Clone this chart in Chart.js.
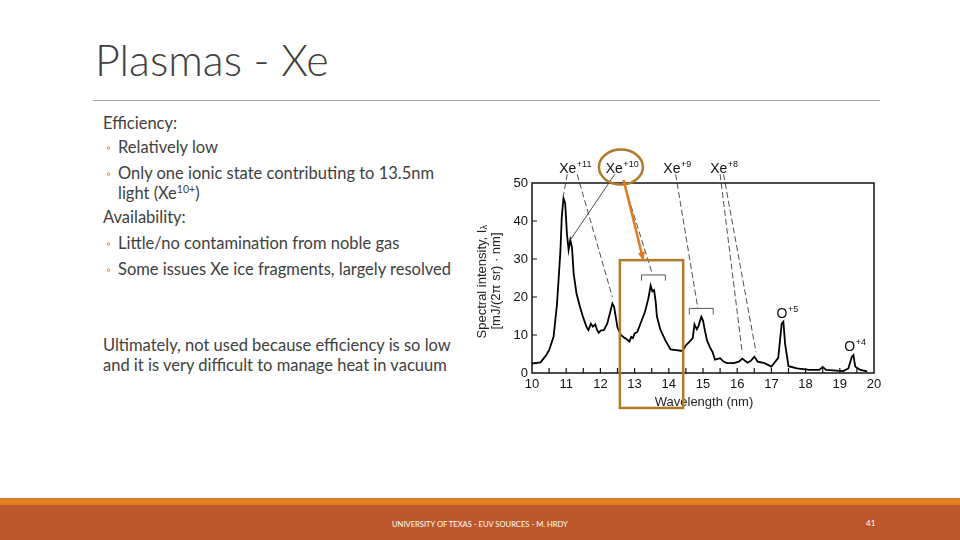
<!DOCTYPE html>
<html>
<head>
<meta charset="utf-8">
<script src="https://cdn.jsdelivr.net/npm/chart.js@4.4.1/dist/chart.umd.min.js"></script>
<style>
  html, body { margin: 0; padding: 0; background: #fff; }
  #slide { position: relative; width: 960px; height: 540px; overflow: hidden; background: #fff; font-family: Lato, "Open Sans", sans-serif; color: #404040; }
  .t { position: absolute; white-space: nowrap; }
  #title { left: 95px; top: 34px; font-size: 43px; font-weight: 300; color: #404040; }
  #rule { position: absolute; left: 93px; top: 100px; width: 787px; height: 1px; background: #a6a6a6; }
  .body { font-size: 16.5px; line-height: 19px; }
  .bul { position: absolute; color: #e07b20; font-size: 12px; }
  #chartBox { position: absolute; left: 460px; top: 140px; width: 440px; height: 280px; }
  #band1 { position: absolute; left: 0; top: 498px; width: 960px; height: 7px; background: #e08020; }
  #band2 { position: absolute; left: 0; top: 505px; width: 960px; height: 35px; background: #bc582b; }
  .foot { position: absolute; color: #fff; font-size: 7.6px; }
</style>
</head>
<body>
<div id="slide">
  <div class="t" id="title">Plasmas - Xe</div>
  <div id="rule"></div>

  <div class="t body" style="left:103px; top:114px;">Efficiency:</div>
  <div class="bul" style="left:106px; top:140px;">◦</div>
  <div class="t body" style="left:118px; top:138px;">Relatively low</div>
  <div class="bul" style="left:106px; top:166px;">◦</div>
  <div class="t body" style="left:118px; top:164px;">Only one ionic state contributing to 13.5nm</div>
  <div class="t body" style="left:118px; top:184px;">light (Xe<sup style="font-size:10.5px; line-height:0;">10+</sup>)</div>
  <div class="t body" style="left:103px; top:208px;">Availability:</div>
  <div class="bul" style="left:106px; top:236px;">◦</div>
  <div class="t body" style="left:118px; top:234px;">Little/no contamination from noble gas</div>
  <div class="bul" style="left:106px; top:262px;">◦</div>
  <div class="t body" style="left:118px; top:260px;">Some issues Xe ice fragments, largely resolved</div>

  <div class="t body" style="left:103px; top:336px;">Ultimately, not used because efficiency is so low</div>
  <div class="t body" style="left:103px; top:356px;">and it is very difficult to manage heat in vacuum</div>

  <div id="chartBox"><canvas id="spectrumChart" width="440" height="280"></canvas></div>

  <div id="band1"></div>
  <div id="band2"></div>
  <div class="foot" style="left:392px; top:519px;">UNIVERSITY OF TEXAS - EUV SOURCES - M. HRDY</div>
  <div class="foot" style="left:866px; top:518px; font-size:8px;">41</div>
</div>

<script>
// spectrum (wavelength in nm, intensity in mJ/(2pi sr nm))
const wavelengths = [10.0, 10.25, 10.4, 10.5, 10.63, 10.73, 10.83, 10.87, 10.92, 10.97, 11.02, 11.07, 11.12, 11.17, 11.22,
  11.3, 11.4, 11.5, 11.6, 11.65, 11.72, 11.78, 11.85, 11.9, 11.95, 12.02, 12.1, 12.2, 12.3, 12.35, 12.4, 12.5, 12.6,
  12.68, 12.75, 12.85, 12.9, 12.95, 13.0, 13.08, 13.15, 13.3, 13.4, 13.47, 13.52, 13.57, 13.62, 13.65, 13.75, 13.9,
  14.05, 14.4, 14.5, 14.6, 14.7, 14.75, 14.82, 14.87, 14.95, 15.0, 15.06, 15.12, 15.2, 15.28, 15.35, 15.5, 15.6, 15.7, 15.9,
  16.05, 16.15, 16.3, 16.4, 16.5, 16.6, 16.8, 17.0, 17.2, 17.3, 17.35, 17.4, 17.5, 17.75, 18.1, 18.4, 18.5, 18.6,
  19.1, 19.25, 19.35, 19.4, 19.45, 19.6, 19.8];
const intensities = [2.5, 2.8, 4.5, 6, 9.5, 18, 32, 41, 46, 44.7, 36.8, 32.4, 35, 33, 26,
  21, 17.5, 14.5, 12, 11.3, 13, 12.2, 12.8, 11.4, 10.6, 11.2, 11.3, 13, 16.5, 18.3, 17.4, 12, 10,
  9.4, 9, 8.3, 9.5, 9.2, 10.4, 10.8, 12.5, 16, 19.5, 23, 21.5, 21.8, 18.5, 15, 11.5, 8.6,
  6.2, 5.8, 7.3, 8.2, 9.2, 12.8, 11.5, 12.4, 14.8, 13.8, 11, 8.5, 6.8, 5.5, 3.5, 3.9, 3, 2.6, 2.6,
  3, 3.8, 2.7, 3.2, 4.3, 3, 2.6, 1.7, 4, 13, 13.5, 7.7, 1.8, 1.2, 0.8, 0.8, 1.6, 0.8,
  0.5, 1.2, 4.2, 4.7, 1.7, 0.8, 0.4];

const xTicks = [10, 11, 12, 13, 14, 15, 16, 17, 18, 19, 20];
const yTicks = [0, 10, 20, 30, 40, 50];

// ion labels: [base, superscript, wavelength, intensity]
const ionLabels = [
  ['Xe', '+11', 11.26, 54], ['Xe', '+10', 12.63, 54], ['Xe', '+9', 14.24, 54], ['Xe', '+8', 15.61, 54],
  ['O', '+5', 17.46, 15.8], ['O', '+4', 19.44, 7.1]
];
// leader lines: [fromX, fromY, toX, toY, dashed]
const leaders = [
  [11.03, 52.3, 10.92, 46.8, true], [11.32, 52.3, 12.35, 20, true],
  [12.42, 52.3, 11.12, 35, false], [12.66, 50.8, 13.52, 26, true],
  [14.2, 52.3, 14.85, 17, true], [15.5, 52.3, 16.15, 5.2, true], [15.6, 52.3, 16.55, 5.5, true]
];
// brackets: [x0, x1, y, legY]
const brackets = [[13.2, 13.9, 25.8, 24.3], [14.6, 15.3, 17, 15.4]];

const ctx = document.getElementById('spectrumChart').getContext('2d');
const FONT = '"Liberation Sans", Arial, sans-serif';

const figurePlugin = {
  id: 'figure',
  afterDraw(chart) {
    const c = chart.ctx, a = chart.chartArea;
    const sx = chart.scales.x, sy = chart.scales.y;
    const px = v => sx.getPixelForValue(v), py = v => sy.getPixelForValue(v);
    c.save();
    // frame
    c.strokeStyle = '#111';
    c.lineWidth = 1.5;
    c.strokeRect(a.left, a.top, a.right - a.left, a.bottom - a.top);
    // inward ticks
    c.lineWidth = 1.2;
    c.beginPath();
    for (let v = 10.5; v < 20; v += 0.5) {
      c.moveTo(px(v), a.bottom); c.lineTo(px(v), a.bottom - 5);
    }
    yTicks.slice(1, -1).forEach(v => { c.moveTo(a.left, py(v)); c.lineTo(a.left + 5, py(v)); });
    c.stroke();

    // axis titles
    c.fillStyle = '#222';
    c.font = '13px ' + FONT;
    c.textAlign = 'center';
    c.textBaseline = 'middle';
    c.fillText('Wavelength (nm)', (a.left + a.right) / 2 + 1, a.bottom + 29);
    c.save();
    c.translate(a.left - 50, (a.top + a.bottom) / 2 + 3);
    c.rotate(-Math.PI / 2);
    const t1 = 'Spectral intensity, I';
    const w1 = c.measureText(t1).width;
    c.textAlign = 'left';
    c.fillText(t1, -w1 / 2 - 3, 0);
    c.font = '9px ' + FONT;
    c.fillText('λ', w1 / 2 - 3, 3);
    c.font = '13px ' + FONT;
    c.textAlign = 'center';
    c.fillText('[mJ/(2π sr) · nm]', 0, 14);
    c.restore();

    // leader lines
    c.strokeStyle = '#222';
    c.lineWidth = 0.8;
    leaders.forEach(l => {
      c.setLineDash(l[4] ? [6, 3] : []);
      c.beginPath(); c.moveTo(px(l[0]), py(l[1])); c.lineTo(px(l[2]), py(l[3])); c.stroke();
    });
    c.setLineDash([]);
    // brackets
    c.strokeStyle = '#555';
    c.lineWidth = 1;
    brackets.forEach(b => {
      c.beginPath();
      c.moveTo(px(b[0]), py(b[3])); c.lineTo(px(b[0]), py(b[2]));
      c.lineTo(px(b[1]), py(b[2])); c.lineTo(px(b[1]), py(b[3]));
      c.stroke();
    });

    // ion labels
    c.fillStyle = '#111';
    c.textAlign = 'left';
    c.textBaseline = 'alphabetic';
    ionLabels.forEach(l => {
      c.font = '14px ' + FONT;
      const bw = c.measureText(l[0]).width;
      c.font = '9px ' + FONT;
      const sw = c.measureText(l[1]).width;
      const x0 = px(l[2]) - (bw + sw) / 2, y0 = py(l[3]) + 5;
      c.font = '14px ' + FONT;
      c.fillText(l[0], x0, y0);
      c.font = '9px ' + FONT;
      c.fillText(l[1], x0 + bw + 0.5, y0 - 6);
    });

    // highlight: box around 13.5 nm, circle around Xe+10, arrow between them
    c.strokeStyle = '#b07a2c';
    c.lineWidth = 2.5;
    c.strokeRect(px(12.57), py(29.7), px(14.42) - px(12.57), py(-9.2) - py(29.7));
    c.beginPath();
    c.ellipse(px(12.6), py(54.2), 22, 17.5, 0, 0, Math.PI * 2);
    c.stroke();
    const ax0 = px(12.68), ay0 = py(50.8), ax1 = px(13.25), ay1 = py(29.9);
    c.strokeStyle = '#e07b20';
    c.fillStyle = '#e07b20';
    c.lineWidth = 2.5;
    c.beginPath(); c.moveTo(ax0, ay0); c.lineTo(ax1, ay1); c.stroke();
    const ang = Math.atan2(ay1 - ay0, ax1 - ax0);
    c.beginPath();
    c.moveTo(ax1 + 2 * Math.cos(ang), ay1 + 2 * Math.sin(ang));
    c.lineTo(ax1 - 8 * Math.cos(ang - 0.45), ay1 - 8 * Math.sin(ang - 0.45));
    c.lineTo(ax1 - 8 * Math.cos(ang + 0.45), ay1 - 8 * Math.sin(ang + 0.45));
    c.closePath(); c.fill();
    c.restore();
  }
};

new Chart(ctx, {
  type: 'line',
  data: {
    datasets: [{
      data: wavelengths.map((w, i) => ({ x: w, y: intensities[i] })),
      borderColor: '#000',
      borderWidth: 1.8,
      pointRadius: 0,
      tension: 0,
      fill: false
    }]
  },
  options: {
    responsive: false,
    animation: false,
    layout: { padding: { top: 43, right: 26, left: 0, bottom: 0 } },
    plugins: { legend: { display: false }, tooltip: { enabled: false } },
    scales: {
      x: {
        type: 'linear', min: 10, max: 20,
        afterFit: s => { s.height = 47; },
        afterBuildTicks: s => { s.ticks = xTicks.map(v => ({ value: v })); },
        grid: { display: false, drawTicks: false },
        border: { display: false },
        ticks: { padding: 4, color: '#111', maxRotation: 0, font: { size: 13, family: FONT } }
      },
      y: {
        min: 0, max: 50,
        afterFit: s => { s.width = 72; },
        afterBuildTicks: s => { s.ticks = yTicks.map(v => ({ value: v })); },
        grid: { display: false, drawTicks: false },
        border: { display: false },
        ticks: { padding: 4, color: '#111', font: { size: 13, family: FONT } }
      }
    }
  },
  plugins: [figurePlugin]
});
</script>
</body>
</html>
